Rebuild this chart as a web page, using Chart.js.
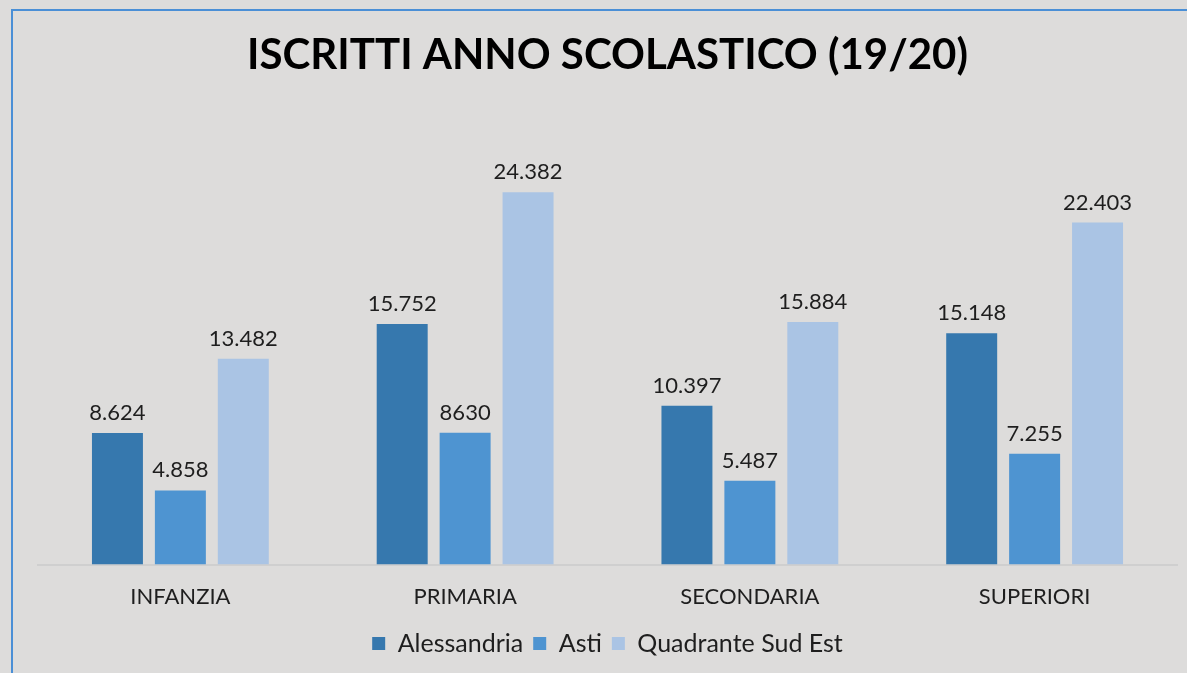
<!DOCTYPE html>
<html>
<head>
<meta charset="utf-8">
<script src="https://cdn.jsdelivr.net/npm/chart.js@4/dist/chart.umd.min.js"></script>
<style>
  html, body { margin: 0; padding: 0; background: #dddcdb; }
  #wrap { position: relative; width: 1187px; height: 673px; overflow: hidden; }
  #frame { position: absolute; left: 11px; top: 9px; width: 1190px; height: 700px;
           border-left: 2px solid #4a8fd6; border-top: 2px solid #4a8fd6; }
  canvas { position: absolute; left: 0; top: 0; }
</style>
</head>
<body>
<div id="wrap">
  <div id="frame"></div>
  <canvas id="barChart" width="1187" height="673"></canvas>
</div>
<script>
const categorie = ['INFANZIA', 'PRIMARIA', 'SECONDARIA', 'SUPERIORI'];
const alessandria = [8624, 15752, 10397, 15148];
const asti = [4858, 8630, 5487, 7255];
const quadrante = [13482, 24382, 15884, 22403];
// etichette come appaiono nel grafico originale
const etichetteAlessandria = ['8.624', '15.752', '10.397', '15.148'];
const etichetteAsti = ['4.858', '8630', '5.487', '7.255'];
const etichetteQuadrante = ['13.482', '24.382', '15.884', '22.403'];

const valueLabels = {
    id: 'valueLabels',
    afterDatasetsDraw(chart) {
        const ctx = chart.ctx;
        ctx.save();
        ctx.font = '22px Lato, sans-serif';
        ctx.fillStyle = '#1e1e1e';
        ctx.textAlign = 'center';
        ctx.textBaseline = 'bottom';
        chart.data.datasets.forEach((ds, i) => {
            chart.getDatasetMeta(i).data.forEach((bar, j) => {
                ctx.fillText(ds.etichette[j], bar.x, bar.y - 9);
            });
        });
        ctx.restore();
    }
};

new Chart(document.getElementById('barChart'), {
    type: 'bar',
    data: {
        labels: categorie,
        datasets: [
            { label: 'Alessandria', data: alessandria, etichette: etichetteAlessandria, backgroundColor: '#3678ae' },
            { label: 'Asti', data: asti, etichette: etichetteAsti, backgroundColor: '#4e94d1' },
            { label: 'Quadrante Sud Est', data: quadrante, etichette: etichetteQuadrante, backgroundColor: '#aac4e4' }
        ]
    },
    options: {
        responsive: false,
        animation: false,
        layout: { padding: { left: 38, right: 10, top: 0, bottom: 7 } },
        datasets: { bar: { categoryPercentage: 0.663, barPercentage: 0.81 } },
        scales: {
            x: {
                grid: { display: false },
                border: { display: true, color: '#cfcfcf', width: 2 },
                ticks: { color: '#1e1e1e', font: { family: 'Lato, sans-serif', size: 22 }, padding: 11 }
            },
            y: { display: false, min: 0, max: 30000 }
        },
        plugins: {
            title: {
                display: true,
                text: 'ISCRITTI ANNO SCOLASTICO (19/20)',
                color: '#000',
                font: { family: 'Lato, sans-serif', size: 42, weight: 'bold' },
                padding: { top: 30, bottom: 26 }
            },
            legend: {
                position: 'bottom',
                labels: {
                    color: '#1e1e1e',
                    font: { family: 'Lato, sans-serif', size: 25 },
                    boxWidth: 13, boxHeight: 13, padding: 10
                }
            },
            tooltip: { enabled: false }
        }
    },
    plugins: [valueLabels]
});
</script>
</body>
</html>
